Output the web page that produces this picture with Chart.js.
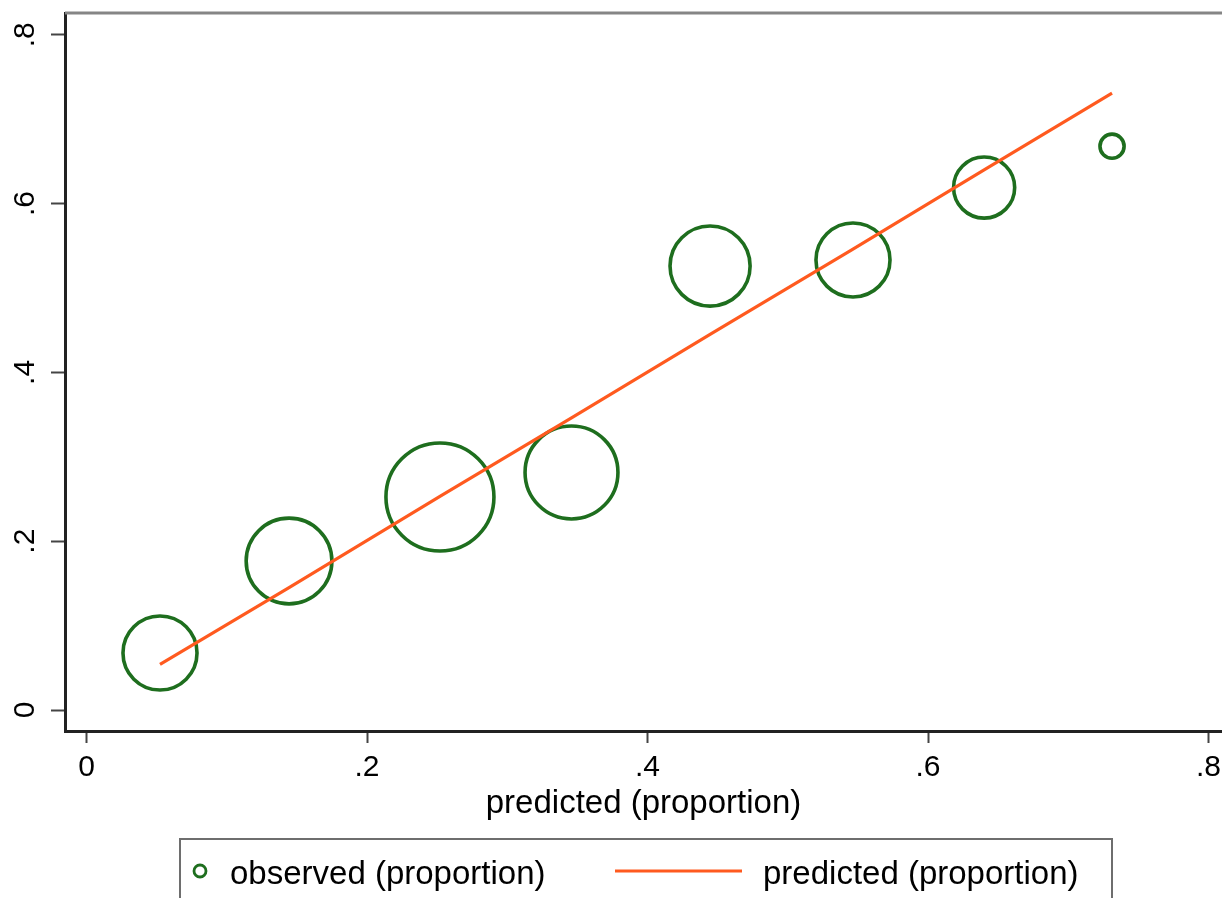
<!DOCTYPE html>
<html>
<head>
<meta charset="utf-8">
<script src="https://cdn.jsdelivr.net/npm/chart.js@4/dist/chart.umd.min.js"></script>
<style>
  html, body { margin: 0; padding: 0; background: #fff; }
  #wrap { width: 1222px; height: 898px; position: relative; }
</style>
</head>
<body>
<div id="wrap"><canvas id="c"></canvas></div>
<script>
// ---- data ----
const predictedX = [0.0524, 0.1444, 0.2520, 0.3458, 0.4446, 0.5465, 0.6400, 0.7312];
const observed   = [0.0675, 0.1765, 0.2524, 0.2814, 0.5260, 0.5332, 0.6190, 0.6680];
const predicted  = [0.054, 0.145, 0.253, 0.346, 0.445, 0.546, 0.640, 0.731];
const groupSize  = [47, 63, 100, 74, 55, 47, 32, 5];
const tickValues = [0, 0.2, 0.4, 0.6, 0.8];
const labels = { observed: 'observed (proportion)', predicted: 'predicted (proportion)', xTitle: 'predicted (proportion)' };

const GREEN = '#1e6e1e';
const ORANGE = '#ff5a1f';
const FONT = "'Liberation Sans', Arial, Helvetica, sans-serif";

function fmt(v) {
  if (Math.abs(v) < 1e-9) return '0';
  return String(+v.toFixed(2)).replace(/^0\./, '.');
}

const frameAndLegend = {
  id: 'frameAndLegend',
  afterDatasetsDraw(chart) {
    const ctx = chart.ctx;
    const a = chart.chartArea;
    ctx.save();
    ctx.strokeStyle = '#858585';
    ctx.lineWidth = 3;
    ctx.beginPath();
    ctx.moveTo(a.left, a.top);
    ctx.lineTo(chart.width + 5, a.top);
    ctx.stroke();
    ctx.restore();
  },
  afterDraw(chart) {
    const ctx = chart.ctx;
    const H = chart.height;
    const top = H - 59;
    ctx.save();
    ctx.strokeStyle = '#6e6e6e';
    ctx.lineWidth = 2;
    ctx.strokeRect(180, top, 932, 80);
    const cy = H - 27;
    ctx.strokeStyle = GREEN;
    ctx.lineWidth = 2.8;
    ctx.beginPath();
    ctx.arc(200, cy, 6, 0, Math.PI * 2);
    ctx.stroke();
    ctx.fillStyle = '#000';
    ctx.font = '33px ' + FONT;
    ctx.textBaseline = 'middle';
    ctx.textAlign = 'left';
    ctx.fillText(chart.data.datasets[1].label, 230, cy + 4);
    ctx.strokeStyle = ORANGE;
    ctx.lineWidth = 3;
    ctx.beginPath();
    ctx.moveTo(615, cy);
    ctx.lineTo(742, cy);
    ctx.stroke();
    ctx.fillText(chart.data.datasets[0].label, 763, cy + 4);
    ctx.restore();
  }
};

new Chart(document.getElementById('c'), {
  type: 'scatter',
  data: {
    datasets: [
      {
        label: labels.predicted,
        data: predictedX.map((x, i) => ({ x: x, y: predicted[i] })),
        showLine: true,
        borderColor: ORANGE,
        borderWidth: 3.2,
        pointRadius: 0,
        fill: false,
        order: 0
      },
      {
        label: labels.observed,
        data: predictedX.map((x, i) => ({ x: x, y: observed[i] })),
        pointRadius: ctx => 5.4 * Math.sqrt(groupSize[ctx.dataIndex]),
        pointBorderColor: GREEN,
        pointBackgroundColor: 'rgba(0,0,0,0)',
        pointBorderWidth: 3.6,
        order: 1
      }
    ]
  },
  options: {
    responsive: true,
    maintainAspectRatio: false,
    animation: false,
    events: [],
    layout: { autoPadding: false, padding: { top: 13, right: 0, left: 0, bottom: 74 } },
    plugins: {
      legend: { display: false },
      tooltip: { enabled: false }
    },
    scales: {
      x: {
        type: 'linear',
        min: -0.01533,
        max: 0.8096,
        afterBuildTicks: s => { s.ticks = tickValues.map(v => ({ value: v })); },
        afterFit: s => { s.height = 93; s.paddingLeft = 0; s.paddingRight = 0; },
        ticks: {
          callback: v => fmt(v),
          font: { size: 30, family: FONT },
          color: '#000',
          padding: 7,
          maxRotation: 0,
          minRotation: 0
        },
        grid: {
          drawOnChartArea: false,
          drawTicks: true,
          tickLength: 12,
          tickWidth: 2,
          tickColor: '#444'
        },
        border: { display: true, color: '#222', width: 3 },
        title: {
          display: true,
          text: labels.xTitle,
          font: { size: 33, family: FONT },
          color: '#000',
          padding: 0
        }
      },
      y: {
        type: 'linear',
        min: -0.02488,
        max: 0.8258,
        afterBuildTicks: s => { s.ticks = tickValues.map(v => ({ value: v })); },
        afterFit: s => { s.width = 65; s.paddingTop = 0; s.paddingBottom = 0; },
        ticks: {
          callback: v => fmt(v),
          font: { size: 30, family: FONT },
          color: '#000',
          padding: 13,
          minRotation: 90,
          maxRotation: 90,
          crossAlign: 'center'
        },
        grid: {
          drawOnChartArea: false,
          drawTicks: true,
          tickLength: 14,
          tickWidth: 2,
          tickColor: '#444'
        },
        border: { display: true, color: '#222', width: 3 }
      }
    }
  },
  plugins: [frameAndLegend]
});
</script>
</body>
</html>
